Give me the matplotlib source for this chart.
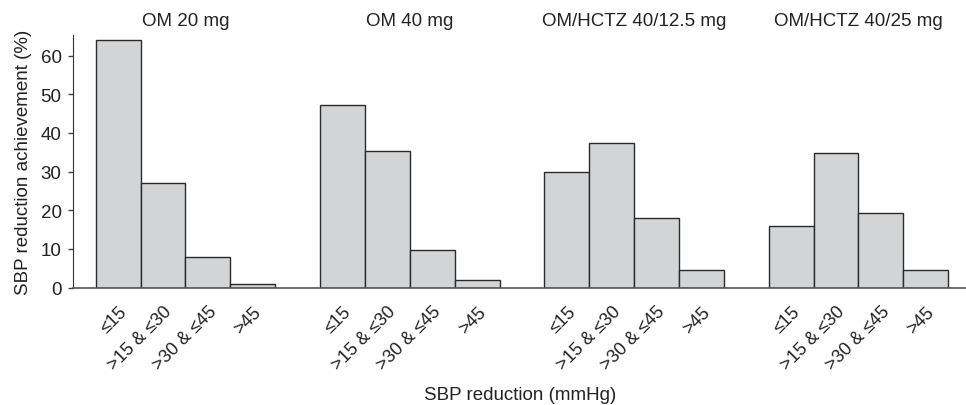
import matplotlib.pyplot as plt
import matplotlib.transforms as mtransforms
import numpy as np

plt.rcParams['font.family'] = ['Liberation Sans', 'DejaVu Sans']

groups = ['OM 20 mg', 'OM 40 mg', 'OM/HCTZ 40/12.5 mg', 'OM/HCTZ 40/25 mg']
categories = ['\u226415', '>15 & \u226430', '>30 & \u226445', '>45']
values = [
    [64.0, 27.1, 7.8, 0.9],
    [47.3, 35.4, 9.8, 2.0],
    [29.8, 37.4, 18.1, 4.6],
    [16.0, 34.7, 19.2, 4.5],
]

fig = plt.figure(figsize=(9.66, 4.06), dpi=100)
ax = fig.add_axes([0.0759, 0.289, 0.9238, 0.6223])

step = len(categories) + 1
xticks = []
xlabels = []
trans = mtransforms.blended_transform_factory(ax.transData, fig.transFigure)
for g, (name, vals) in enumerate(zip(groups, values)):
    x = g * step + np.arange(len(vals))
    ax.bar(x, vals, width=1.0, color='#d3d4d6', edgecolor='#2a2a2a', linewidth=1.0)
    xticks.extend(x)
    xlabels.extend(categories)
    ax.text(x.mean(), 0.948, name, transform=trans, ha='center', va='center', fontsize=13.5, color='#222222')

ax.set_xlim(-1.0, 18.89)
ax.set_ylim(0, 65.3)
ax.set_yticks(range(0, 61, 10))
ax.set_xticks(xticks)
ax.set_xticklabels(xlabels, rotation=45, ha='right', rotation_mode='anchor', fontsize=13, color='#222222')
ax.tick_params(axis='x', length=0, pad=11)
ax.tick_params(axis='y', length=3.5, width=1, color='#444444', labelsize=13.5, labelcolor='#222222', pad=5)

for s in ['top', 'right']:
    ax.spines[s].set_visible(False)
ax.spines['left'].set_color('#333333')
ax.spines['bottom'].set_color('#555555')
ax.spines['bottom'].set_linewidth(1.2)

ax.set_ylabel('SBP reduction achievement (%)', fontsize=13.5, color='#222222', labelpad=6)
fig.text(0.538, 0.025, 'SBP reduction (mmHg)', ha='center', va='center', fontsize=13.5, color='#222222')

fig.savefig('out.png', dpi=100)
